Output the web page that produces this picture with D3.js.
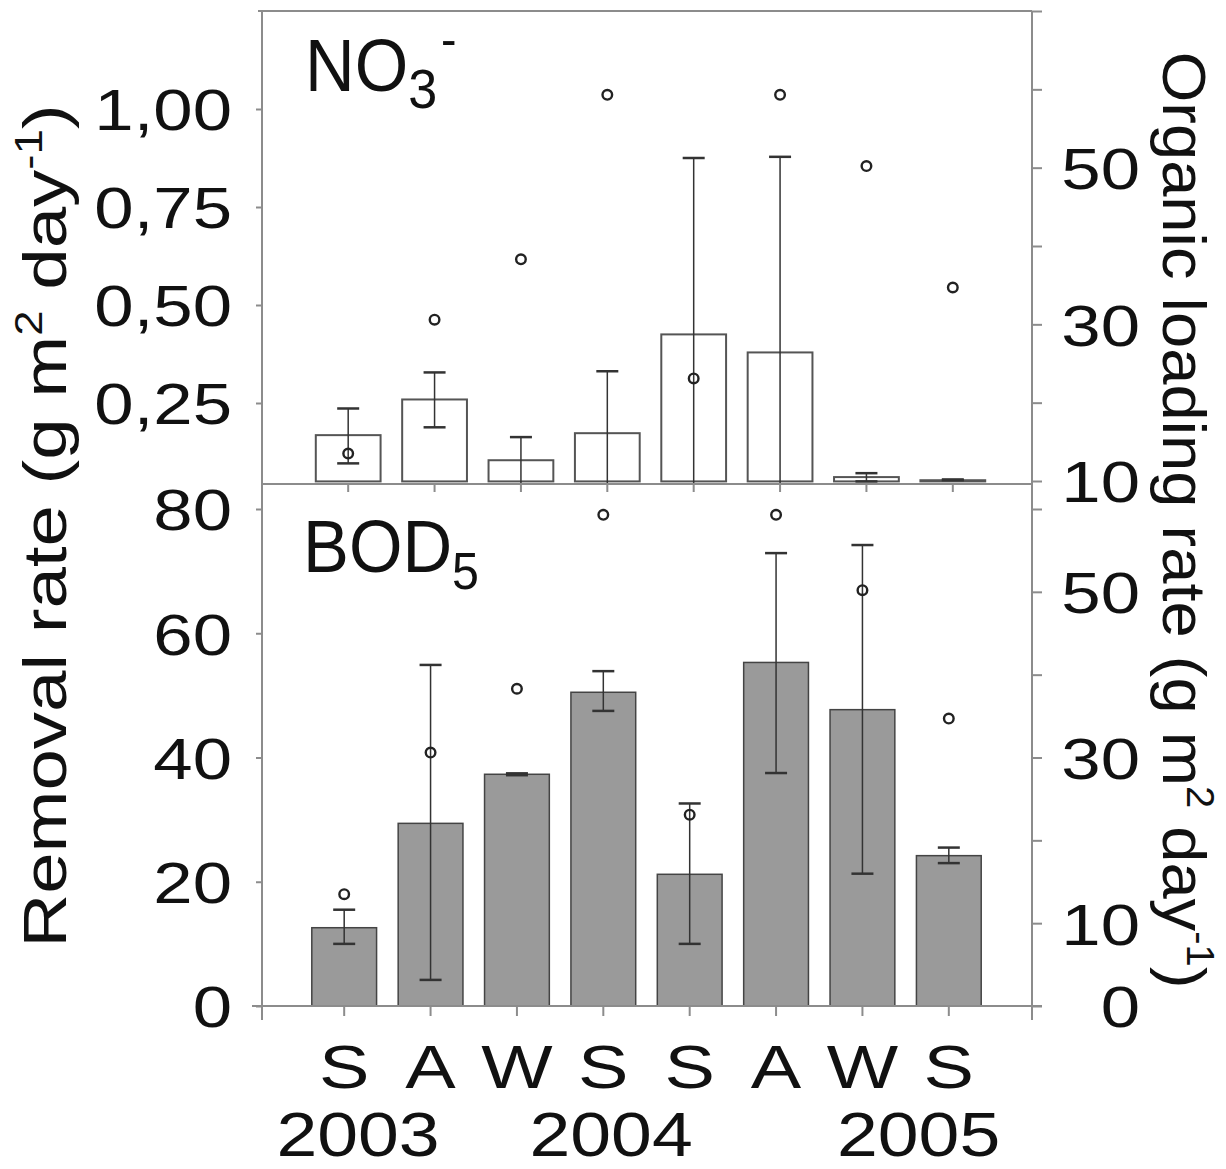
<!DOCTYPE html>
<html>
<head>
<meta charset="utf-8">
<script src="https://cdn.jsdelivr.net/npm/d3@7"></script>
<style>
  body { margin: 0; background: #fff; }
  svg text { font-family: "Liberation Sans", Arial, sans-serif; fill: #111; }
</style>
</head>
<body>
<svg id="chart"></svg>
<script>
// season / year labels
let seasons = ["S", "A", "W", "S", "S", "A", "W", "S"];
let years = ["2003", "2004", "2005"];
let yearAt = [0.16, 3.09, 6.65]; // in category units

// NO3- removal rate (g m2 day-1), mean and error bar ends
let no3Mean  = [0.168, 0.259, 0.104, 0.173, 0.425, 0.379, 0.061, 0.053];
let no3Upper = [0.236, 0.328, 0.163, 0.331, 0.875, 0.878, 0.071, 0.055];
let no3Lower = [0.096, 0.188, 0.0, 0.0, 0.0, 0.0, 0.05, 0.053];

// BOD5 removal rate
let bodMean  = [12.6, 29.4, 37.3, 50.5, 21.2, 55.3, 47.7, 24.2];
let bodUpper = [15.5, 54.9, 37.45, 53.9, 32.6, 72.9, 74.2, 25.5];
let bodLower = [10.0, 4.2, 37.15, 47.5, 10.0, 37.5, 21.3, 23.0];

// organic loading rate (circles, right axis)
let loading = [13.5, 30.6, 38.3, 59.3, 23.1, 59.3, 50.2, 34.7];

let no3Ticks = [0.25, 0.5, 0.75, 1.0];
let bodTicks = [0, 20, 40, 60, 80];
let loadTopTicks = [10, 20, 30, 40, 50, 60, 70];
let loadBotTicks = [0, 10, 20, 30, 40, 50, 60];
let loadLabels = [0, 10, 30, 50];
let no3Base = 0.05;

let W = 1226, H = 1169;
let pLeft = 262, pRight = 1032, pTop = 11, pMid = 484, pBottom = 1006;
let axisColor = "#8c8c8c";
let wide = 1.22; // the figure's lettering is wider than Liberation Sans

let svg = d3.select("#chart").attr("width", W).attr("height", H);
svg.append("rect").attr("width", W).attr("height", H).attr("fill", "#fff");

let idx = d3.range(seasons.length);
let xTop = d3.scaleBand().domain(idx).range([305, 996]).paddingInner(0.25).paddingOuter(0.125);
let xBot = d3.scaleBand().domain(idx).range([301, 992]).paddingInner(0.25).paddingOuter(0.125);

let yNo3 = d3.scaleLinear().domain([0, 1.25]).range([501, pTop]);
let yLoadTop = d3.scaleLinear().domain([10, 70]).range([481, pTop]);
let yBod = d3.scaleLinear().domain([0, 80]).range([pBottom, 509]);
let yLoadBot = d3.scaleLinear().domain([0, 60]).range([pBottom, 509]);

let comma = d => d3.format(".2f")(d).replace(".", ",");

svg.append("clipPath").attr("id", "clipTop")
  .append("rect").attr("x", pLeft).attr("y", pTop).attr("width", pRight - pLeft).attr("height", pMid - pTop);

// ---- top panel (NO3-)
let gTop = svg.append("g").attr("clip-path", "url(#clipTop)");

gTop.selectAll(".barTop")
  .data(idx)
  .enter().append("rect")
  .attr("x", i => xTop(i))
  .attr("y", i => yNo3(no3Mean[i]))
  .attr("width", xTop.bandwidth())
  .attr("height", i => yNo3(no3Base) - yNo3(no3Mean[i]))
  .attr("fill", "#fff")
  .attr("stroke", "#555")
  .attr("stroke-width", 2);

function errorBars(g, x, y, up, lo) {
  let cx = i => x(i) + x.bandwidth() / 2;
  g.selectAll(null).data(idx).enter().append("line")
    .attr("x1", cx).attr("x2", cx)
    .attr("y1", i => y(up[i])).attr("y2", i => y(lo[i]))
    .attr("stroke", "#333").attr("stroke-width", 1.5);
  [up, lo].forEach(function(arr) {
    g.selectAll(null).data(idx).enter().append("line")
      .attr("x1", i => cx(i) - 11).attr("x2", i => cx(i) + 11)
      .attr("y1", i => y(arr[i])).attr("y2", i => y(arr[i]))
      .attr("stroke", "#333").attr("stroke-width", 2.5);
  });
}
errorBars(gTop, xTop, yNo3, no3Upper, no3Lower);

function circles(g, x, y) {
  g.selectAll(null).data(idx).enter().append("circle")
    .attr("cx", i => x(i) + x.bandwidth() / 2)
    .attr("cy", i => y(loading[i]))
    .attr("r", 4.8)
    .attr("fill", "none")
    .attr("stroke", "#222")
    .attr("stroke-width", 2.4);
}
circles(gTop, xTop, yLoadTop);

// ---- bottom panel (BOD5)
let gBot = svg.append("g");
gBot.selectAll(".barBot")
  .data(idx)
  .enter().append("rect")
  .attr("x", i => xBot(i))
  .attr("y", i => yBod(bodMean[i]))
  .attr("width", xBot.bandwidth())
  .attr("height", i => yBod(0) - yBod(bodMean[i]))
  .attr("fill", "#9a9a9a")
  .attr("stroke", "#444")
  .attr("stroke-width", 1.5);
errorBars(gBot, xBot, yBod, bodUpper, bodLower);
circles(gBot, xBot, yLoadBot);

// ---- frame lines
let line = (x1, y1, x2, y2) => svg.append("line")
  .attr("x1", x1).attr("y1", y1).attr("x2", x2).attr("y2", y2)
  .attr("stroke", axisColor).attr("stroke-width", 2);
line(258, pTop, pRight, pTop);
line(pLeft, pTop, pLeft, 1020);
line(pRight, pTop, pRight, 1020);
line(pLeft, pMid, pRight, pMid);
line(252, pBottom, 1042, pBottom);

// ---- axes
function styleAxis(g) {
  g.select(".domain").remove();
  g.selectAll(".tick line").attr("stroke", axisColor).attr("stroke-width", 2);
  g.selectAll(".tick text").attr("font-size", 58).attr("fill", "#111");
}

[[yNo3, no3Ticks, comma], [yBod, bodTicks, d => d]].forEach(function(a) {
  svg.append("g").attr("transform", `translate(${pLeft},0)`)
    .call(d3.axisLeft(a[0]).tickValues(a[1]).tickSize(6).tickFormat(a[2]))
    .call(styleAxis)
    .selectAll(".tick text")
    .attr("x", -30 / wide)
    .attr("dy", "0.36em")
    .attr("transform", `scale(${wide},1)`);
});

function rightAxis(scale, ticks) {
  let g = svg.append("g").attr("transform", `translate(${pRight},0)`)
    .call(d3.axisRight(scale).tickValues(ticks).tickSize(10)
      .tickFormat(d => loadLabels.includes(d) ? d : ""))
    .call(styleAxis);
  g.selectAll(".tick text")
    .attr("text-anchor", "end")
    .attr("x", 108 / wide)
    .attr("dy", "0.36em")
    .attr("transform", `scale(${wide},1)`);
}
rightAxis(yLoadTop, loadTopTicks);
rightAxis(yLoadBot, loadBotTicks);

// x ticks of both panels
svg.append("g").attr("transform", `translate(0,${pMid})`)
  .call(d3.axisBottom(xTop).tickSize(8).tickFormat(""))
  .call(styleAxis);
let xb = svg.append("g").attr("transform", `translate(0,${pBottom})`)
  .call(d3.axisBottom(xBot).tickSize(10).tickFormat(i => seasons[i]).tickPadding(28))
  .call(styleAxis);
xb.selectAll(".tick text")
  .attr("font-size", 62)
  .attr("dy", "0.71em")
  .attr("transform", `scale(${wide},1)`);

svg.append("g").selectAll("text")
  .data(years)
  .enter().append("text")
  .attr("transform", (d, i) =>
    `translate(${xBot(0) + xBot.bandwidth() / 2 + yearAt[i] * xBot.step()},1156) scale(${wide * 0.97},1)`)
  .attr("text-anchor", "middle")
  .attr("font-size", 62)
  .text(d => d);

// ---- panel titles
let t1 = svg.append("text")
  .attr("transform", "translate(305,91) scale(0.93,1)")
  .attr("font-size", 74);
t1.append("tspan").text("NO");
t1.append("tspan").attr("font-size", 56).attr("dy", 17).text("3");
t1.append("tspan").attr("font-size", 50).attr("dy", -52).attr("dx", 4).text("-");

let t2 = svg.append("text")
  .attr("transform", "translate(303,572) scale(0.93,1)")
  .attr("font-size", 74);
t2.append("tspan").text("BOD");
t2.append("tspan").attr("font-size", 52).attr("dy", 17).text("5");

// ---- axis titles
function axisTitle(x, y, rot, stretch, main) {
  let t = svg.append("text")
    .attr("transform", `translate(${x},${y}) rotate(${rot}) scale(${stretch},1)`)
    .attr("text-anchor", "middle")
    .attr("font-size", 62);
  t.append("tspan").text(main + " (g m");
  t.append("tspan").attr("font-size", 38).attr("dy", -24).text("2");
  t.append("tspan").attr("dy", 24).text(" day");
  t.append("tspan").attr("font-size", 38).attr("dy", -24).text("-1");
  t.append("tspan").attr("dy", 24).text(")");
}
axisTitle(66, 526, -90, 1.2, "Removal rate");
axisTitle(1163, 520, 90, 1.05, "Organic loading rate");
</script>
</body>
</html>
